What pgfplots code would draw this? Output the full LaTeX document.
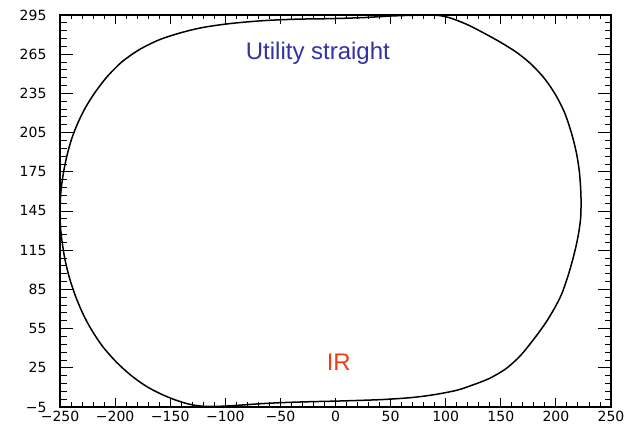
\documentclass[border=0pt]{standalone}
\usepackage{pgfplots}
\pgfplotsset{compat=1.18}
\usepackage{fontspec}
\setmainfont{Liberation Sans}
\newfontfamily\tickfont{DejaVu Sans}
\definecolor{utilblue}{RGB}{50,50,160}
\definecolor{irred}{RGB}{240,60,20}
\begin{document}
\begin{tikzpicture}
\begin{axis}[
  scale only axis,
  width=551pt, height=392pt,
  xmin=-250, xmax=250, ymin=-5, ymax=295,
  xtick={-250,-200,-150,-100,-50,0,50,100,150,200,250},
  ytick={-5,25,55,85,115,145,175,205,235,265,295},
  xticklabels={−250,−200,−150,−100,−50,0,50,100,150,200,250},
  yticklabels={−5,25,55,85,115,145,175,205,235,265,295},
  minor x tick num=4, minor y tick num=4,
  tick align=inside,
  xtick pos=both, ytick pos=both,
  xticklabel pos=lower, yticklabel pos=left,
  axis line style={line width=1.2pt},
  tick style={black, line width=0.9pt},
  xtick style={/pgfplots/major tick length=9pt, /pgfplots/minor tick length=4.5pt},
  ytick style={/pgfplots/major tick length=13pt, /pgfplots/minor tick length=6.5pt},
  tick label style={font=\tickfont\fontsize{14}{14}\selectfont},
  xticklabel style={inner sep=0.5pt, yshift=-3pt},
  yticklabel style={xshift=-10pt},
  clip=false,
]
\addplot[black, line width=1.5pt, smooth, tension=0.5] coordinates {
(-250,143)
(-249.6,155)
(-248.5,165)
(-246.5,176)
(-243.5,188)
(-239.5,200)
(-234,212)
(-227,224)
(-218,236)
(-207,248)
(-194,259)
(-178,268.5)
(-160,276)
(-140,281.5)
(-120,285.5)
(-95,288.5)
(-65,290.7)
(-35,291.8)
(-5,292.2)
(25,293)
(50,294.2)
(70,294.8)
(85,295)
(95,294.5)
(105,292.5)
(120,287.5)
(135,281)
(150,274)
(165,266)
(178,257)
(190,246)
(200,233.5)
(208,220)
(214,205)
(218.5,190)
(221.3,175)
(222.6,160)
(222.8,150)
(222.5,140)
(221,130)
(218.5,119)
(215,107)
(210.5,94)
(205,81)
(198,69.5)
(190,58.5)
(180,47)
(168,34.5)
(155,24.5)
(140,17)
(125,12)
(110,7.8)
(90,4.5)
(70,2.3)
(45,0.8)
(20,0)
(0,-0.5)
(-25,-1.0)
(-50,-1.7)
(-70,-2.6)
(-85,-3.5)
(-100,-4.3)
(-112,-4.6)
(-122,-4.3)
(-133,-2.8)
(-145,0.3)
(-158,4.8)
(-172,11)
(-186,19.5)
(-199,29.5)
(-211,41)
(-221,53.5)
(-229,66)
(-236,80)
(-241.5,94)
(-245.5,108)
(-248.2,122)
(-249.6,133)
(-250,143)
};
\node[text=utilblue, font=\fontsize{24}{24}\selectfont] at (axis cs:-16,266) {Utility straight};
\node[text=irred, font=\fontsize{24}{24}\selectfont] at (axis cs:3,29) {IR};
\end{axis}
\pgfresetboundingbox
\path ([shift={(-60pt,-17pt)}]current axis.south west) rectangle ([shift={(14pt,15pt)}]current axis.north east);
\end{tikzpicture}
\end{document}
